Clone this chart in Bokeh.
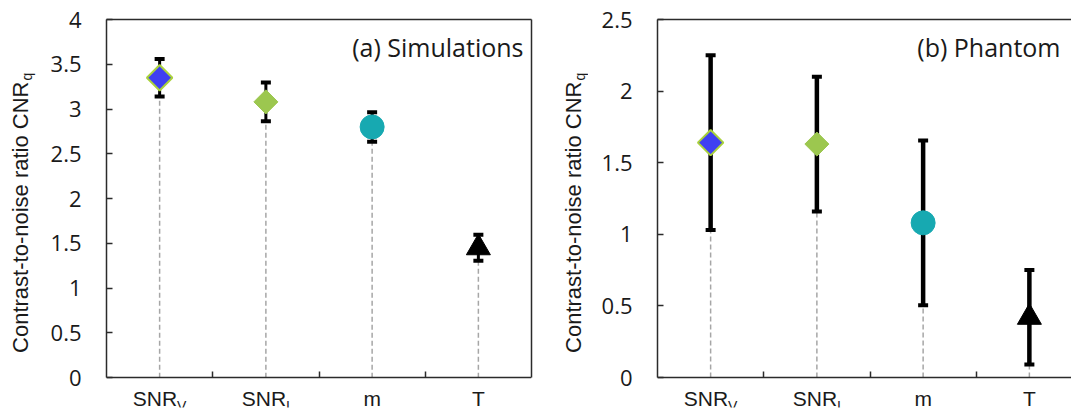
import numpy as np
from bokeh.plotting import figure
from bokeh.layouts import row
from bokeh.models import Range1d, FixedTicker, ColumnDataSource, LinearAxis
from bokeh.core.properties import value
from bokeh.embed import file_html
from bokeh.resources import INLINE

# Feature categories (main text + subscript)
categories = ["SNR", "SNR", "m", "T"]
cat_subscripts = ["V", "I", "", ""]

# (a) Simulations: mean CNRq and error-bar half-widths
sim_mean = [3.35, 3.08, 2.80, 1.45]
sim_err = [0.21, 0.215, 0.165, 0.145]

# (b) Phantom: mean CNRq and error-bar half-widths
ph_mean = [1.64, 1.63, 1.08, 0.42]
ph_err = [0.61, 0.47, 0.575, 0.33]

sim_yticks = [0, 0.5, 1, 1.5, 2, 2.5, 3, 3.5, 4]
ph_yticks = [0, 0.5, 1, 1.5, 2, 2.5]

y_title = "Contrast-to-noise ratio CNR"
y_title_sub = "q"

# marker styling per category
MARKERS = [
    dict(marker="square", angle=np.pi / 4, size=18, fill_color="#3f3ff2", line_color="#a9d13c", line_width=2),
    dict(marker="square", angle=np.pi / 4, size=17, fill_color="#9cc74f", line_color="#9cc74f", line_width=1),
    dict(marker="circle", angle=0, size=24, fill_color="#17a9b1", line_color="#17a9b1", line_width=1),
    dict(marker="triangle", angle=0, size=24, fill_color="#000000", line_color="#000000", line_width=1),
]

AXIS_COLOR = "#2b2b2b"
TEXT_COLOR = "#1a1a1a"
SANS = "Liberation Sans"
NUM_FONT = "Open Sans"

H = 413             # canvas height
ZERO_ROW = 377      # pixel row of y = 0
BOTTOM_PAD = 6      # border left under the frame
CAT_PX = 106.25     # pixel width of one category slot

# Arial/Liberation Sans advance widths (em) used to centre the subscripted labels
ADV = {"S": 0.667, "N": 0.722, "R": 0.722, "V": 0.667, "I": 0.278, "m": 0.833, "T": 0.611}


def text_width(s, size):
    return sum(ADV.get(c, 0.6) for c in s) * size


def y_title_strip(width, center_x):
    t = figure(width=width, height=H, x_range=Range1d(0, width), y_range=Range1d(0, H),
               output_backend="svg", toolbar_location=None, title=None,
               x_axis_type=None, y_axis_type=None,
               min_border_left=0, min_border_right=0, min_border_top=0, min_border_bottom=0)
    t.grid.visible = False
    t.outline_line_color = None
    # the title ends at a fixed row, the subscript follows straight after it
    end = H - 66
    t.text(x=[center_x], y=[end], text=[y_title], angle=np.pi / 2,
           text_align="right", text_baseline="middle",
           text_font=value(SANS), text_font_size="22px", text_color=TEXT_COLOR)
    t.text(x=[center_x + 7], y=[end + 1], text=[y_title_sub], angle=np.pi / 2,
           text_align="left", text_baseline="middle",
           text_font=value(SANS), text_font_size="14px", text_color=TEXT_COLOR)
    return t


def line_axis(**kw):
    # bare axis used as a frame edge: line only
    return LinearAxis(ticker=FixedTicker(ticks=[]), major_label_text_font_size="0px",
                      major_label_standoff=0, major_tick_in=0, major_tick_out=0,
                      minor_tick_in=0, minor_tick_out=0,
                      axis_line_color=AXIS_COLOR, axis_line_width=1.5, **kw)


def style_axis(ax):
    ax.major_tick_in = 6
    ax.major_tick_out = 0
    ax.minor_tick_line_color = None
    ax.axis_line_color = AXIS_COLOR
    ax.axis_line_width = 1.5
    ax.major_tick_line_color = AXIS_COLOR
    ax.major_tick_line_width = 1.5


def build_panel(means, errs, yticks, y_max, x_end, fig_w, left_border, right_border,
                top_border, stem_w, title, title_dx, title_drop, boxed):
    xs = list(range(1, len(categories) + 1))
    lo = [m - e for m, e in zip(means, errs)]
    hi = [m + e for m, e in zip(means, errs)]
    src = ColumnDataSource(dict(x=xs, mean=means, lo=lo, hi=hi, zero=[0] * len(xs)))

    # the frame runs below y = 0 so the category labels sit inside it
    ppu = (ZERO_ROW - top_border) / y_max
    y_min = -(H - BOTTOM_PAD - ZERO_ROW) / ppu

    p = figure(width=fig_w, height=H, title=None,
               x_range=Range1d(0.5, x_end), y_range=Range1d(y_min, y_max),
               output_backend="svg", toolbar_location=None,
               x_axis_type=None,
               min_border_left=left_border, min_border_right=right_border,
               min_border_top=top_border, min_border_bottom=BOTTOM_PAD)
    p.grid.visible = False
    p.outline_line_color = None

    # y axis: inward ticks, plain numeric labels, line stops at zero
    ya = p.left[0]
    ya.ticker = FixedTicker(ticks=yticks)
    ya.major_label_overrides = {t: f"{t:g}" for t in yticks}
    ya.bounds = (0, y_max)
    style_axis(ya)
    ya.major_label_standoff = 25
    ya.major_label_text_font = NUM_FONT
    ya.major_label_text_font_size = "22px"
    ya.major_label_text_color = TEXT_COLOR

    # x axis pinned at y = 0 with category separator ticks
    xa = LinearAxis(ticker=FixedTicker(ticks=[x + 0.5 for x in xs[:-1]]),
                    major_label_text_font_size="0px", major_label_standoff=0,
                    fixed_location=0)
    xa.major_label_overrides = {x + 0.5: "" for x in xs[:-1]}
    style_axis(xa)
    p.add_layout(xa, "below")

    # top edge (and right edge where it is inside the window)
    p.add_layout(line_axis(), "above")
    if boxed:
        p.add_layout(line_axis(bounds=(0, y_max)), "right")

    # drop lines from zero to each mean
    p.segment(x0="x", y0="zero", x1="x", y1="mean", source=src,
              line_color="#a6a6a6", line_width=1.5, line_dash="5 3")
    # error bars
    p.segment(x0="x", y0="lo", x1="x", y1="hi", source=src,
              line_color="black", line_width=stem_w)
    for end in ("lo", "hi"):
        p.rect(x="x", y=end, width=10, height=4, width_units="screen",
               height_units="screen", source=src, fill_color="black", line_color=None)

    # category markers
    for i, style in enumerate(MARKERS):
        p.scatter(x=[xs[i]], y=[means[i]], **style)

    # panel title
    p.text(x=[x_end], y=[y_max - title_drop / ppu], text=[title], x_offset=title_dx,
           text_align="right", text_baseline="middle",
           text_font=value(NUM_FONT), text_font_size="25px", text_color=TEXT_COLOR)

    # subscripted category labels under the axis
    main_size, sub_size = 21, 14
    w_main = [text_width(n, main_size) for n in categories]
    w_sub = [text_width(s, sub_size) for s in cat_subscripts]
    starts = [-(a + b) / 2 for a, b in zip(w_main, w_sub)]
    lab_src = ColumnDataSource(dict(
        x=xs, name=categories, sub=cat_subscripts,
        y_main=[-21 / ppu] * len(xs), y_sub=[-28 / ppu] * len(xs),
        off_main=starts, off_sub=[s + w for s, w in zip(starts, w_main)]))
    p.text(x="x", y="y_main", text="name", x_offset="off_main", source=lab_src,
           text_align="left", text_baseline="middle",
           text_font=value(SANS), text_font_size=f"{main_size}px", text_color=TEXT_COLOR)
    p.text(x="x", y="y_sub", text="sub", x_offset="off_sub", source=lab_src,
           text_align="left", text_baseline="middle",
           text_font=value(SANS), text_font_size=f"{sub_size}px", text_color=TEXT_COLOR)
    return p


strip_a, strip_b = 40, 48
left_w = 540 - strip_a
right_w = 1071 - 540 - strip_b
right_frame_w = 1071 - 657

panel_a = build_panel(sim_mean, sim_err, sim_yticks, 4, 4.5, left_w, 106 - strip_a, 9, 17, 3,
                      "(a) Simulations", -8, 27.5, True)
panel_b = build_panel(ph_mean, ph_err, ph_yticks, 2.5, 0.5 + right_frame_w / CAT_PX, right_w,
                      657 - 540 - strip_b, 0, 19, 4.5, "(b) Phantom", -11, 27, False)

layout = row(y_title_strip(strip_a, 19.5), panel_a, y_title_strip(strip_b, 32.5), panel_b, spacing=0)
open("out.html", "w").write(file_html(layout, INLINE))
